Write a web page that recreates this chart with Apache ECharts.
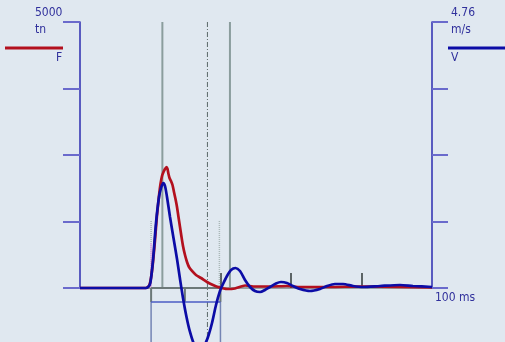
<!DOCTYPE html>
<html><head><meta charset="utf-8">
<script src="https://cdn.jsdelivr.net/npm/echarts@6/dist/echarts.min.js"></script>
<style>html,body{margin:0;padding:0;background:#e0e8f0;}#c{width:505px;height:342px;}</style>
</head><body><div id="c"></div>
<script>
// time (ms) and force (tn)
const forceTime = [0, 18.75, 19.6, 20.17, 20.74, 21.31, 21.88, 22.44, 22.87, 23.3, 23.72, 24.15, 24.57, 24.86, 25.14, 25.43, 25.85, 26.28, 26.7, 27.13, 27.56, 27.98, 28.41, 28.84, 29.26, 29.83, 30.4, 30.97, 31.82, 32.95, 34.38, 36.08, 37.78, 39.2, 41.76, 44.0, 46.9, 49.7, 54.0, 58.8, 62.5, 71.0, 79.5, 90.9, 100];
const forceValues = [0, 0, 38, 188, 489, 902, 1372, 1729, 1955, 2105, 2180, 2237, 2274, 2237, 2143, 2068, 2011, 1936, 1804, 1673, 1523, 1335, 1147, 959, 790, 620, 489, 395, 320, 244, 188, 113, 56, 19, -19, -9, 47, 28, 28, 38, 19, 19, 28, 19, 9];
// time (ms) and velocity (m/s)
const velTime = [0, 18.75, 19.6, 20.03, 20.74, 21.59, 22.44, 23.01, 23.66, 24.15, 24.72, 25.57, 26.56, 27.56, 28.41, 29.26, 30.26, 31.25, 32.39, 33.81, 35.23, 36.36, 37.5, 38.64, 39.77, 40.63, 41.76, 42.9, 44.18, 45.45, 46.88, 48.3, 49.72, 51.14, 52.56, 53.98, 55.68, 57.1, 58.8, 60.5, 62.5, 65.34, 68.18, 70.17, 72.44, 74.72, 77.56, 80.4, 85.23, 90.91, 94.6, 100];
const velValues = [0, 0, 0.036, 0.107, 0.501, 1.163, 1.628, 1.789, 1.879, 1.825, 1.628, 1.271, 0.895, 0.519, 0.161, -0.179, -0.519, -0.787, -1.002, -1.11, -1.038, -0.877, -0.626, -0.304, -0.054, 0.072, 0.215, 0.322, 0.358, 0.304, 0.143, 0.018, -0.054, -0.072, -0.036, 0.018, 0.081, 0.107, 0.089, 0.036, -0.018, -0.054, -0.018, 0.036, 0.072, 0.072, 0.036, 0.018, 0.036, 0.054, 0.036, 0.018];
// axis scales
const forceMax = 5000, forceUnit = 'tn', forceInterval = 1250;
const velMax = 4.76, velUnit = 'm/s';
const timeMax = 100, timeTicks = [40, 60, 80];
// cursor / annotation times (ms) and force levels (tn)
const cursorTimes = [23.4, 42.6];
const midCursorTime = 36.2;
const dottedTimes = [20.2, 39.6];
const dottedTop = 1260;
const pinkTop = 846;
const boxStart = 20.2, boxMid = 29.8, boxEnd = 39.9;
const boxLevel = -263, bottomLevel = -1200;

const FONT = '"DejaVu Sans Condensed", "Liberation Sans", Arial, sans-serif';
const zip = (a, b) => a.map((v, i) => [v, b[i]]);
const seg = (p, color, width, type, z) => ({
  type: 'line', data: p, symbol: 'none', clip: false, silent: true, z: z || 2,
  lineStyle: { color, width, type: type || 'solid' }, animation: false
});

const series = [];
cursorTimes.forEach(t => series.push(seg([[t, forceMax], [t, 0]], '#8b9d9d', 2)));
series.push(seg([[midCursorTime, forceMax], [midCursorTime, bottomLevel]], '#5a6868', 1, [5, 2, 1, 2]));
dottedTimes.forEach(t => series.push(seg([[t, dottedTop], [t, 0]], '#a8b6b6', 1.5, [1, 1])));
series.push(seg([[dottedTimes[0], pinkTop], [dottedTimes[0], 0]], '#e2a6e6', 1.2));
series.push(seg([[boxStart, 0], [boxEnd, 0]], '#6c7878', 2, 'solid', 3));
[boxStart, boxMid, boxEnd].forEach(t => series.push(seg([[t, 0], [t, boxLevel]], '#6c7878', 2, 'solid', 3)));
series.push(seg([[boxStart, boxLevel], [boxEnd, boxLevel]], '#4b5cc4', 1.5, 'solid', 3));
[boxStart, boxEnd].forEach(t => series.push(seg([[t, boxLevel], [t, bottomLevel]], '#7484b4', 1.5)));

series.push({ type: 'line', name: 'F', data: zip(forceTime, forceValues), symbol: 'none', smooth: 0.2, clip: false, z: 5, animation: false,
  lineStyle: { color: '#b3101e', width: 2.7 } });
series.push({ type: 'line', name: 'V', yAxisIndex: 1, data: zip(velTime, velValues), symbol: 'none', smooth: 0.25, clip: false, z: 6, animation: false,
  lineStyle: { color: '#0c0ca6', width: 2.7 } });

const txt = (x, y, s, align) => ({ type: 'text', x, y, style: { text: s, fill: '#30309c', font: '12px ' + FONT, textAlign: align || 'left', textVerticalAlign: 'middle' } });

const chart = echarts.init(document.getElementById('c'), null, { renderer: 'canvas' });
chart.setOption({
  backgroundColor: '#e0e8f0',
  animation: false,
  grid: { left: 80, right: 73, top: 22, bottom: 54 },
  xAxis: {
    type: 'value', min: 0, max: timeMax,
    axisLine: { show: true, lineStyle: { color: '#7c8888', width: 1.5 } },
    axisTick: { show: true, inside: true, length: 15, customValues: timeTicks, lineStyle: { color: '#303838', width: 1.5 } },
    axisLabel: { show: false }, splitLine: { show: false },
    name: timeMax + ' ms', nameLocation: 'end', nameGap: 3,
    nameTextStyle: { color: '#30309c', fontSize: 12, fontFamily: FONT, verticalAlign: 'top', padding: [4, 0, 0, 0] }
  },
  yAxis: [{
    type: 'value', min: 0, max: forceMax, interval: forceInterval, position: 'left',
    axisLine: { show: true, lineStyle: { color: '#2c2cb0', width: 1.5 } },
    axisTick: { show: true, inside: false, length: 17, lineStyle: { color: '#6a6acc', width: 2 } },
    axisLabel: { show: false }, splitLine: { show: false }
  }, {
    type: 'value', min: 0, max: velMax, interval: velMax / 4, position: 'right',
    axisLine: { show: true, lineStyle: { color: '#2c2cb0', width: 1.5 } },
    axisTick: { show: true, inside: false, length: 16, lineStyle: { color: '#6a6acc', width: 2 } },
    axisLabel: { show: false }, splitLine: { show: false }
  }],
  series,
  graphic: [
    { type: 'line', shape: { x1: 5, y1: 48, x2: 63, y2: 48 }, style: { stroke: '#b3101e', lineWidth: 3 } },
    { type: 'line', shape: { x1: 448, y1: 48, x2: 505, y2: 48 }, style: { stroke: '#0c0ca6', lineWidth: 3 } },
    txt(35, 13, String(forceMax)),
    txt(35, 30, forceUnit),
    txt(56, 58, 'F'),
    txt(451, 13, String(velMax)),
    txt(451, 30, velUnit),
    txt(451, 58, 'V')
  ]
});
</script></body></html>
